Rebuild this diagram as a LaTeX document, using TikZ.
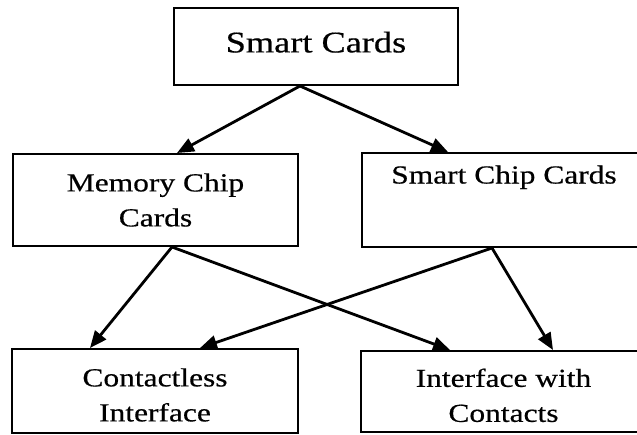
\documentclass[tikz,border=0pt]{standalone}
\usepackage{fontspec}
\setmainfont{Liberation Serif}[FakeStretch=1.21,FakeBold=0.5]
\usetikzlibrary{arrows.meta}
\begin{document}
\begin{tikzpicture}[x=1pt,y=-1pt,
  box/.style={draw, line width=2pt, rectangle, inner sep=0pt, align=center,
    font=\fontsize{26}{35}\selectfont},
  link/.style={line width=2.8pt, -{Triangle[length=17pt,width=14pt]}}]
\clip (0,0) rectangle (637,435);
\fill[white] (0,0) rectangle (637,435);

% top level
\node[box, minimum width=284pt, minimum height=77pt,
  font=\fontsize{30}{36}\selectfont, text depth=9pt] (smart) at (316,46.5) {Smart Cards};

% card kinds
\node[box, minimum width=285pt, minimum height=92pt] (memory) at (155.5,200)
  {Memory Chip\\Cards};
\node[box, minimum width=284pt, minimum height=94pt] (chip) at (504,200)
  {Smart Chip Cards\\[16pt]~};

% interfaces
\node[box, minimum width=286pt, minimum height=84pt] (contactless) at (155,391)
  {\rule{0pt}{26pt}Contactless\\Interface};
\node[box, minimum width=285pt, minimum height=81pt] (contacts) at (503.5,391.5)
  {\rule{0pt}{26pt}Interface with\\Contacts};

% links
\draw[link] ([xshift=-16pt]smart.south) -- ([xshift=21.5pt]memory.north);
\draw[link] ([xshift=-16pt]smart.south) -- ([xshift=-56pt]chip.north);
\draw[link] ([xshift=16.5pt]memory.south) -- ([xshift=-65pt]contactless.north);
\draw[link] ([xshift=16.5pt]memory.south) -- ([xshift=-53.5pt]contacts.north);
\draw[link] ([xshift=-12pt]chip.south) -- ([xshift=45pt]contactless.north);
\draw[link] ([xshift=-12pt]chip.south) -- ([xshift=49.5pt]contacts.north);
\end{tikzpicture}
\end{document}
